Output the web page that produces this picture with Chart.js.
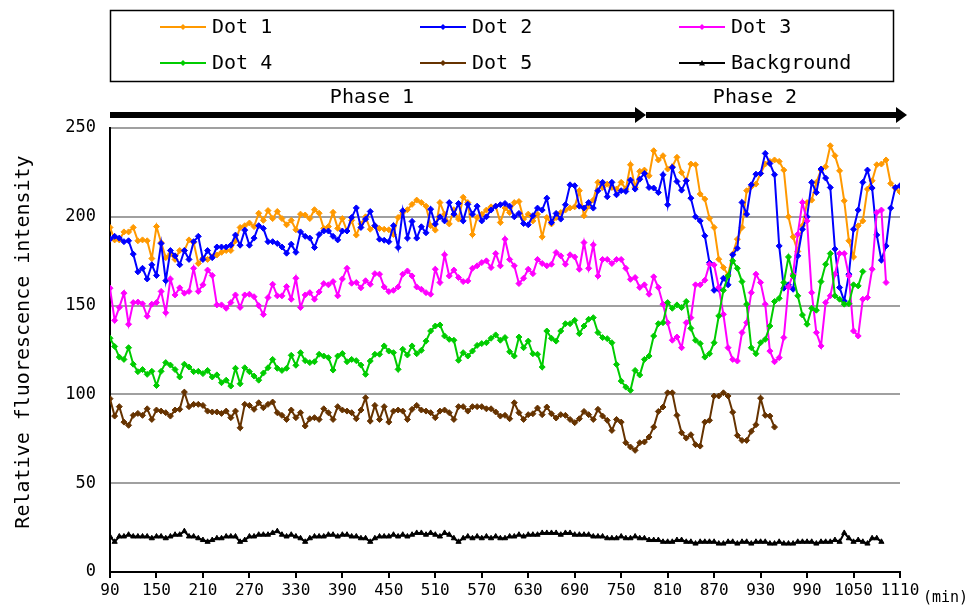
<!DOCTYPE html>
<html>
<head>
<meta charset="utf-8">
<title>Relative fluorescence intensity</title>
<script src="https://cdn.jsdelivr.net/npm/chart.js@4/dist/chart.umd.min.js"></script>
<style>
  html, body { margin: 0; padding: 0; background: #fff; }
  canvas { display: block; }
</style>
</head>
<body>
<canvas id="chart" width="978" height="610"></canvas>
<script>
'use strict'
// time points (min), one every 6 min
const minutes = [90,96,102,108,114,120,126,132,138,144,150,156,162,168,174,180,186,192,198,204,
  210,216,222,228,234,240,246,252,258,264,270,276,282,288,294,300,306,312,318,324,
  330,336,342,348,354,360,366,372,378,384,390,396,402,408,414,420,426,432,438,444,
  450,456,462,468,474,480,486,492,498,504,510,516,522,528,534,540,546,552,558,564,
  570,576,582,588,594,600,606,612,618,624,630,636,642,648,654,660,666,672,678,684,
  690,696,702,708,714,720,726,732,738,744,750,756,762,768,774,780,786,792,798,804,
  810,816,822,828,834,840,846,852,858,864,870,876,882,888,894,900,906,912,918,924,
  930,936,942,948,954,960,966,972,978,984,990,996,1002,1008,1014,1020,1026,1032,1038,1044,
  1050,1056,1062,1068,1074,1080,1086,1092,1098,1104,1110];

const xTickLabels = [90,150,210,270,330,390,450,510,570,630,690,750,810,870,930,990,1050,1110];
const yTickLabels = [0,50,100,150,200,250];

const seriesNames = ['Dot 1','Dot 2','Dot 3','Dot 4','Dot 5','Background'];
const seriesColors = ['#ff9900','#0000ff','#ff00ff','#00cc00','#663300','#000000'];

const dot1 = [194,187,187,191.5,191.5,194,186.5,187,186.5,176.5,194.5,185.5,177,179,176,181,181,187,185.5,173.7,
  176.7,176,177.5,178.5,180,181,181,186.5,194,195,196.5,194.5,202,198,203.5,199,203,199,195.5,198,
  192.7,201.5,201,199,204,202,193.5,194.5,202.5,193.5,199,192,198,189.7,196,200,193,195,
  193.4,193,192.7,190,199.6,202.4,204,207,209.4,208,206,195,192.5,208,201.5,196,204,198.7,211,208,
  190,199.6,201.5,203.8,205.6,206,196.8,205,202.4,208,208.6,198.7,201.5,197.7,201.5,188.7,199.6,196,199.6,202.4,
  203.8,205,205.6,214.7,200.6,206,209.4,219.4,216.5,218.4,216.5,215.6,219.4,215.6,229.3,216.5,225.6,
  226.3,223.1,237.2,232,234.4,226.9,228.2,233.5,225,220.3,229.7,229.3,212.8,210,199.2,194,176.1,171.4,167.3,179,
  187.4,194,214.7,216.9,218.4,224.4,229.7,231.2,232,231.2,226.3,200,188.7,180.5,194.9,208,209.4,219.4,226.3,228.2,
  240,234.4,225.9,209,186.5,177.4,194.9,197.7,215.6,220.3,229.3,229.7,232,218.8,216,214];

const dot2 = [187.4,189,188,186,186.5,179,169,171,165,173,167,185,164,181,178,173,181,176,186,189,
  176,181,177,183,183,183,184,189.7,184,192.5,184,188,195,193.5,186,186,185,183,179.5,184.6,
  180,191.5,189,188,182.7,190,192,192,189,187,192,192,199.6,205,194,198.7,203,195,
  187.4,186.8,186,195,182.7,203.4,188,197.4,188,194.4,191,204.3,195.9,200,197.7,208,201.5,207.5,197.7,207,
  201.5,206,197.7,200,203.8,206,206.8,207.5,206,200,201.9,196.2,195.5,200.6,204.9,203.8,210.5,196.8,201.9,198.7,
  206.8,218,217.5,206,204.9,208,204.9,214.7,219.4,211.3,219.4,212.4,214.7,214.3,220.7,215.6,221.2,
  224.4,216.5,216.2,213.7,223.7,206.8,227.8,219.9,215,220.3,210.5,200,197.7,189.3,174.2,158.6,159.2,165.4,161.7,178.6,
  182.3,208.1,201.5,218,224,224.4,235.7,230,223.7,183.6,159.8,161.7,159.2,178,193,200,219.4,213.7,226.9,221.8,
  216.5,181.8,160.2,152.6,167.7,193,203.8,219.4,226.3,216.2,189.8,175.6,183.6,204.9,216.5,217.5];

const dot3 = [159.8,141.7,149,157,139.5,151.7,152,151,144,150.8,151.7,158,146,165,156,160,157,158,171,158,
  161.7,170,167,150.4,150.4,148.5,151.7,156,149,156,156.4,155,150,145,154.5,162,155.5,155.5,160.7,153.6,
  165.4,149,156,157.3,153.6,157.7,162.4,161.7,163.5,155.5,165,171,162.6,163,160,164,162,168,
  167.7,160.5,157.9,158.6,160.5,167.7,169.5,166.7,160.5,159.2,157.3,156.4,170.5,163,178.6,166.7,170,165.8,163.5,163.9,
  171,172.4,174.2,175.2,171.4,179.3,172.4,187.4,176,172.4,162.4,165.4,170.5,168,176,173.7,172.4,173.3,179.9,178,
  173.3,178.6,177.4,170.5,185.5,171,184.2,166.7,176,176,173.7,176,176,171,164.8,165.8,160.2,
  161.7,156.4,166.2,160.2,150.8,140.4,130.5,132.3,126.3,140.4,143.2,161.7,161.7,164.3,173.3,172.9,160.2,145.1,126.3,119.7,
  118.8,134.8,140.4,157.3,167.7,163,150.8,124.4,118.4,120.7,132,160.5,167.7,190.2,208.1,197.7,157.3,134.8,127.3,151.7,
  155.5,167.7,179.3,179.3,166.7,135.7,132.9,153.6,154.5,170.5,202.4,203.8,163];

const dot4 = [131.6,127,121,119.7,126.3,117,112.8,114,111.3,113,105,113,117.9,116.5,114,109.8,117,115.4,112.8,113,
  111.7,113.5,109.8,111,106.6,108,104.7,114.7,106,115,112.8,110.3,108,112,115,119.7,114.7,113.5,114.7,122,
  116.4,123.5,119,117.9,118.4,122.6,121.6,120.7,113.7,121.6,123,118.4,119.7,119,116.5,111.3,118.8,122.6,
  122.6,127.3,124.4,123.5,114.1,125.4,122.2,127.3,122.9,124.8,130,135.7,138.5,139.1,132.9,131,130.5,119.2,123.5,121.6,
  124.4,127.6,128.6,129.1,131.6,133.5,130.5,132,124,121.6,132.3,126.3,130,122.9,122.6,115.4,135.7,131.6,130,135.7,
  139.8,139.8,141.7,134.2,138.5,142.3,143.2,134.8,132,131.4,129.1,116.9,107.5,104.1,102.3,113.5,110.9,
  119.7,121.6,132.9,139.8,140.4,151.7,148.5,150.4,148.9,152.3,137.2,130.5,128.6,121,122.9,129.1,144.2,158.6,166.7,175.2,
  171,163.5,150.8,126.3,122.9,129.1,131,138.5,152.3,154.1,163,177.4,166.7,155.5,144.7,139.5,148.5,147.4,163.5,173.3,
  179.3,155.5,153.6,150.8,151.1,161.7,161.1,169.2];

const dot5 = [97.6,87.8,93.1,84.4,82.6,88.2,89.3,88.2,91.9,85.9,91.2,90.6,89.7,87.8,91.2,91.6,101.3,93.1,94.4,94.4,
  93.8,90.6,90.1,90.1,89.3,90.6,86.9,90.6,81.2,94.4,93.8,91.6,95.3,92.5,94.4,95.7,89.7,88.2,85.9,91.2,
  86.9,89.7,82.2,86.3,86.9,85.9,91.9,89.7,85.9,93.1,91.2,90.6,89.7,86.3,91.2,98.1,85,93.8,85.9,93.1,
  84.4,90.6,91.2,90.6,85.9,91.6,93.8,91.2,90.6,89.7,86.9,90.6,91.2,89.7,85.9,93.1,93.1,90.6,93.1,93.1,
  93.1,91.9,91.9,90.1,87.8,88.2,86.3,95.3,89.7,85.9,
  88.6,89.1,92.3,88.6,92.9,89.1,86.7,88.6,88.2,85.9,84.1,86.3,90.4,88.6,85.9,91.6,87.8,85.4,79.7,85.9,
  84.4,72.8,70.4,68.5,72.8,73.2,76,81.6,90.4,92.9,100.9,100.9,88.2,78.4,75.4,77.3,71.7,70.9,84.4,85.4,
  99.1,99.1,100.9,99.1,90,76.9,74.1,74.1,79.2,82.9,97.9,88.2,87.8,81.6];

const background = [20,17,20,20,21,20,20,20,20,19,
  20,20,19,20,21,21,23,20,20,19,
  18,17,18,19,19,20,20,20,17,18,
  20,20,21,21,21,22,23,21,20,21,
  20,19,17,19,20,20,20,21,21,20,
  21,21,20,20,19,19,17,19,20,20,
  20,21,20,21,20,21,22,22,21,22,
  21,20,22,21,19,17,19,20,19,20,
  19,20,19,20,19,19,20,20,21,20,
  21,21,21,22,22,22,22,21,22,22,
  21,21,21,21,20,20,20,19,19,19,
  20,19,19,20,19,19,18,18,18,17,
  17,17,18,18,17,17,16,17,17,17,
  17,16,16,17,17,16,17,17,16,17,
  17,17,16,16,17,16,16,16,17,17,
  17,17,16,17,17,17,18,17,22,19,
  17,18,17,16,19,19,17];

const allSeries = [dot1, dot2, dot3, dot4, dot5, background];
const FONT = 'DejaVu Sans Mono';

function toPoints(vals) {
  return vals.map((v, i) => ({x: minutes[i], y: v}));
}

const datasets = allSeries.map((vals, i) => ({
  label: seriesNames[i],
  data: toPoints(vals),
  borderColor: seriesColors[i],
  backgroundColor: seriesColors[i],
  borderWidth: 2,
  pointStyle: i === 5 ? 'triangle' : 'rectRot',
  pointRadius: 3,
  pointBorderWidth: 1,
  tension: 0,
  fill: false,
  order: 6 - i   // later series on top, like the original
}));

function drawMarker(ctx, style, x, y, r) {
  ctx.beginPath();
  if (style === 'triangle') {
    ctx.moveTo(x, y - r);
    ctx.lineTo(x + r, y + r * 0.8);
    ctx.lineTo(x - r, y + r * 0.8);
  } else {
    ctx.moveTo(x, y - r);
    ctx.lineTo(x + r, y);
    ctx.lineTo(x, y + r);
    ctx.lineTo(x - r, y);
  }
  ctx.closePath();
  ctx.fill();
}

function drawArrow(ctx, x0, x1, y) {
  ctx.fillRect(x0, y - 3, x1 - 10 - x0, 6);
  ctx.beginPath();
  ctx.moveTo(x1 - 11, y - 8);
  ctx.lineTo(x1, y);
  ctx.lineTo(x1 - 11, y + 8);
  ctx.closePath();
  ctx.fill();
}

const extras = {
  id: 'extras',
  afterDraw(chart) {
    const ctx = chart.ctx;
    const area = chart.chartArea;
    ctx.save();

    // legend box
    ctx.strokeStyle = '#000';
    ctx.lineWidth = 1.5;
    ctx.strokeRect(110.5, 10.5, 783, 71);
    const colX = [160, 420, 679];
    const rowY = [27, 63];
    ctx.font = '20px "' + FONT + '"';
    ctx.textBaseline = 'middle';
    ctx.textAlign = 'left';
    for (let i = 0; i < seriesNames.length; i++) {
      const cx = colX[i % 3];
      const cy = rowY[Math.floor(i / 3)];
      ctx.strokeStyle = seriesColors[i];
      ctx.fillStyle = seriesColors[i];
      ctx.lineWidth = 2;
      ctx.beginPath();
      ctx.moveTo(cx, cy);
      ctx.lineTo(cx + 46, cy);
      ctx.stroke();
      drawMarker(ctx, i === 5 ? 'triangle' : 'diamond', cx + 23, cy, 3);
      ctx.fillStyle = '#000';
      ctx.fillText(seriesNames[i], cx + 52, cy + 1);
    }

    // phase arrows
    ctx.fillStyle = '#000';
    ctx.textAlign = 'center';
    ctx.fillText('Phase 1', 372, 98);
    ctx.fillText('Phase 2', 755, 98);
    drawArrow(ctx, area.left, 646, 115);
    drawArrow(ctx, 646, 907, 115);

    // axis titles
    ctx.save();
    ctx.translate(24, 342);
    ctx.rotate(-Math.PI / 2);
    ctx.fillText('Relative fluorescence intensity', 0, 0);
    ctx.restore();

    ctx.font = '15px "' + FONT + '"';
    ctx.textAlign = 'left';
    ctx.fillText('(min)', 923, 598);
    ctx.restore();
  }
};

new Chart(document.getElementById('chart'), {
  type: 'line',
  data: {datasets: datasets},
  options: {
    responsive: false,
    animation: false,
    devicePixelRatio: 1,
    layout: {padding: {top: 128, right: 78, left: 0, bottom: 0}},
    plugins: {
      legend: {display: false},
      tooltip: {enabled: false}
    },
    scales: {
      x: {
        type: 'linear',
        min: 90,
        max: 1110,
        afterBuildTicks: (scale) => { scale.ticks = xTickLabels.map(v => ({value: v})); },
        afterFit: (scale) => { scale.height = 38; scale.paddingLeft = 0; scale.paddingRight = 0; },
        ticks: {
          color: '#000',
          font: {family: FONT, size: 16},
          maxRotation: 0,
          autoSkip: false,
          padding: 3,
          callback: (v) => String(v)
        },
        grid: {
          drawOnChartArea: false,
          drawTicks: true,
          tickLength: 6,
          color: '#000',
          lineWidth: 2
        },
        border: {display: true, color: '#000', width: 2}
      },
      y: {
        min: 0,
        max: 250,
        afterBuildTicks: (scale) => { scale.ticks = yTickLabels.map(v => ({value: v})); },
        afterFit: (scale) => { scale.width = 110; scale.paddingTop = 0; scale.paddingBottom = 0; },
        ticks: {
          color: '#000',
          font: {family: FONT, size: 17},
          padding: 14,
          callback: (v) => String(v)
        },
        grid: {
          drawTicks: false,
          color: (c) => c.tick && c.tick.value === 0 ? 'rgba(0,0,0,0)' : '#a0a0a0',
          lineWidth: 2
        },
        border: {display: true, color: '#000', width: 2}
      }
    }
  },
  plugins: [extras]
});
</script>
</body>
</html>
